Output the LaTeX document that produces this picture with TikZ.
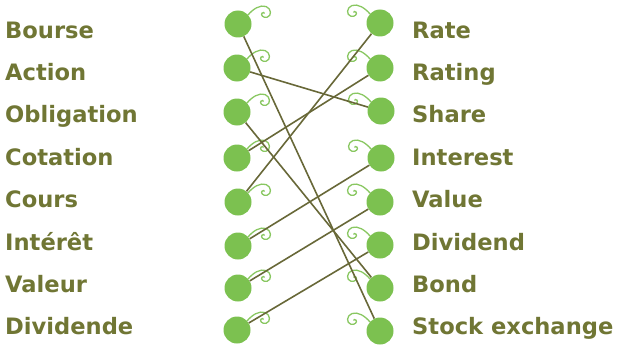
\documentclass[tikz,border=0pt]{standalone}
\usepackage{fontspec}
\setmainfont{DejaVu Sans}
\usepackage{xcolor}
\usepackage{tikz}

\definecolor{dotgreen}{RGB}{124,193,80}
\definecolor{wordolive}{RGB}{112,118,52}
\definecolor{lineolive}{RGB}{104,104,56}

\begin{document}
\begin{tikzpicture}[
  x=1pt, y=-1pt,
  dot/.style={circle,fill=dotgreen,minimum size=27pt,inner sep=0pt},
  word/.style={anchor=base west,inner sep=0pt,text=wordolive,font=\bfseries\fontsize{22.6}{22.6}\selectfont},
  link/.style={draw=lineolive,line width=1.6pt},
  curlline/.style={draw=dotgreen!90!white,line width=1.3pt},
  pics/curl/.style={code={
    \draw[curlline] (10,-9) .. controls (15,-15) and (22,-19.5) .. (28,-17.5)
      .. controls (33.5,-15.5) and (34,-8) .. (29,-6.7)
      .. controls (25,-6) and (22.5,-9) .. (24,-10.8)
      .. controls (25,-12) and (26.5,-11.5) .. (26.5,-10.5);
  }}
]
  \useasboundingbox (0,0) rectangle (617,345);

  % french words
  \node[word] (wbourse) at (5,38) {Bourse};
  \node[word] (waction) at (5,80.4) {Action};
  \node[word] (wobligation) at (5,122.8) {Obligation};
  \node[word] (wcotation) at (5,165.2) {Cotation};
  \node[word] (wcours) at (5,207.6) {Cours};
  \node[word] (winteret) at (5,250) {Intérêt};
  \node[word] (wvaleur) at (5,292.4) {Valeur};
  \node[word] (wdividende) at (5,334.8) {Dividende};

  % english words
  \node[word] (wrate) at (412,38) {Rate};
  \node[word] (wrating) at (412,80.4) {Rating};
  \node[word] (wshare) at (412,122.8) {Share};
  \node[word] (winterest) at (412,165.2) {Interest};
  \node[word] (wvalue) at (412,207.6) {Value};
  \node[word] (wdividend) at (412,250) {Dividend};
  \node[word] (wbond) at (412,292.4) {Bond};
  \node[word] (wstock) at (412,334.8) {Stock exchange};

  % left dots
  \node[dot] (bourse) at (238,24) {};
  \node[dot] (action) at (237,68) {};
  \node[dot] (obligation) at (237,112) {};
  \node[dot] (cotation) at (237,158) {};
  \node[dot] (cours) at (238,202) {};
  \node[dot] (interet) at (238,246) {};
  \node[dot] (valeur) at (238,288) {};
  \node[dot] (dividende) at (237,330) {};

  % right dots
  \node[dot] (rate) at (380,23) {};
  \node[dot] (rating) at (380,68) {};
  \node[dot] (share) at (381,111) {};
  \node[dot] (interest) at (381,158) {};
  \node[dot] (value) at (380,202) {};
  \node[dot] (dividend) at (380,245) {};
  \node[dot] (bond) at (380,288) {};
  \node[dot] (stock) at (380,331) {};

  % curls
  \foreach \d in {bourse,action,obligation,cotation,cours,interet,valeur,dividende}
    \pic at (\d) {curl};
  \foreach \d in {rate,rating,share,interest,value,dividend,bond,stock}
    \pic[xscale=-1] at (\d) {curl};

  % links
  \draw[link] (bourse) -- (stock);
  \draw[link] (action) -- (share);
  \draw[link] (obligation) -- (bond);
  \draw[link] (cotation) -- (rating);
  \draw[link] (cours) -- (rate);
  \draw[link] (interet) -- (interest);
  \draw[link] (valeur) -- (value);
  \draw[link] (dividende) -- (dividend);
\end{tikzpicture}
\end{document}
